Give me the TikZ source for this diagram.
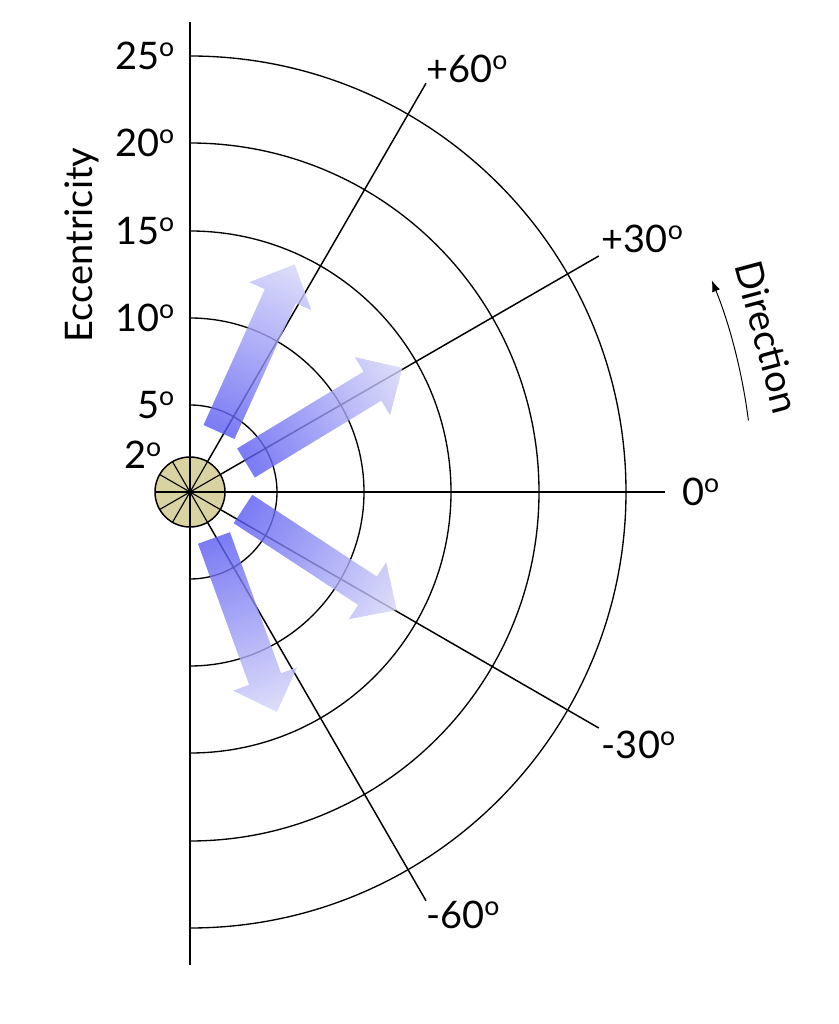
\documentclass[tikz,border=0pt]{standalone}
\usepackage{fontspec}
\setmainfont{Lato}
\usepackage{xcolor}
\usetikzlibrary{arrows.meta,calc}
\definecolor{discfill}{RGB}{216,211,160}
\definecolor{arrowdeep}{RGB}{90,90,242}
\definecolor{arrowpale}{RGB}{214,214,249}
\newcommand{\dg}{\textsuperscript{o}}
% fading block arrow: tail point, heading, length
\newcommand{\fadearrow}[3]{%
  \begin{scope}[transform canvas={shift={#1},rotate=#2}]
    \shade[left color=arrowdeep,right color=arrowpale,fill opacity=0.8]
      (0,-17) -- ({#3-35},-17) -- ({#3-35},-34) -- (#3,0)
      -- ({#3-35},34) -- ({#3-35},17) -- (0,17) -- cycle;
  \end{scope}}

\begin{document}
\begin{tikzpicture}[
    x=0.025cm, y=0.025cm,
    >=Latex,
    every node/.style={font=\fontsize{27}{31}\selectfont},
    axis/.style={black,line width=1.05pt},
    ring/.style={black,line width=0.95pt},
    lab/.style={inner sep=2pt}
]
\useasboundingbox (-190,-532) rectangle (648,492);
\coordinate (O) at (0,0);

% eccentricity axis and rings
\draw[axis] (0,-473) -- (0,470);
\foreach \r in {87,174,261,349,436}
  \draw[ring] (0,-\r) arc[start angle=-90,end angle=90,radius=\r];

% direction rays
\draw[axis] (O) -- (60:472) coordinate (up60);
\draw[axis] (O) -- (30:472) coordinate (up30);
\draw[axis] (O) -- (0:475) coordinate (zero);
\draw[axis] (O) -- (-30:472) coordinate (dn30);
\draw[axis] (O) -- (-60:472) coordinate (dn60);

% central disc (2 deg)
\fill[discfill] (O) circle (35);
\foreach \a in {0,30,...,330}
  \draw[black,line width=0.8pt] (O) -- (\a:35);
\draw[axis] (O) circle (35);
\fill (O) circle (3);

% fading arrows
\fadearrow{(29,60)}{65.7}{184}
\fadearrow{(56,29)}{31.3}{183}
\fadearrow{(53,-17)}{-33.3}{184}
\fadearrow{(24,-46)}{-70.1}{185}

% eccentricity labels
\node[lab,anchor=east] (e25) at (-12,436) {25\dg};
\node[lab,anchor=east] (e20) at (-12,349) {20\dg};
\node[lab,anchor=east] (e15) at (-12,261) {15\dg};
\node[lab,anchor=east] (e10) at (-12,174) {10\dg};
\node[lab,anchor=east] (e5) at (-12,87) {5\dg};
\node[lab,anchor=east] (e2) at (-25,37) {2\dg};
\node[rotate=90] (ecc) at (-108,247) {Eccentricity};

% direction labels
\node[lab,anchor=west,inner sep=12pt] (l0) at (zero) {0\dg};
\node[lab,anchor=south west] (l30) at (up30) {+30\dg};
\node[lab,anchor=south west,inner sep=0pt] (l60) at (up60) {+60\dg};
\node[lab,anchor=north west] (m30) at (dn30) {-30\dg};
\node[lab,anchor=north west,inner sep=0pt] (m60) at (dn60) {-60\dg};

% sense of direction
\draw[black,line width=0.7pt,-{Latex[length=8pt,width=6pt]}] (7.3:563) arc[start angle=7.3,end angle=22,radius=566];
\node[rotate=-75] (dir) at (15:598) {Direction};
\end{tikzpicture}
\end{document}
